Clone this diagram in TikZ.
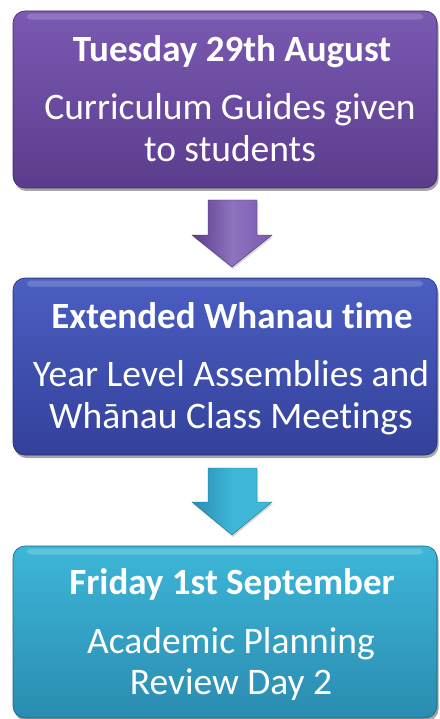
\documentclass[tikz,border=0pt]{standalone}
\usepackage{fontspec}
\setmainfont[Ligatures={CommonOff}]{Carlito}
\usetikzlibrary{shadows,calc}
\definecolor{purpT}{HTML}{7A5AB2}
\definecolor{purpB}{HTML}{5B3C8C}
\definecolor{blueT}{HTML}{4B5EC2}
\definecolor{blueB}{HTML}{33419A}
\definecolor{tealT}{HTML}{3DB6D8}
\definecolor{tealB}{HTML}{2A8CB0}
\tikzset{
  box/.style={rounded corners=12pt, minimum width=424pt, minimum height=177pt,
    inner sep=0pt, draw=#1!70!black, line width=0.6pt,
    drop shadow={shadow xshift=1.5pt, shadow yshift=-3pt, fill=black, opacity=0.35}},
  ttl/.style={anchor=base, text=white, font=\fontsize{37}{44}\selectfont\bfseries},
  bdy/.style={anchor=base, text=white, font=\fontsize{37.5}{44}\selectfont},
  blockarrow/.style={line width=0.4pt}
}
\begin{document}
\begin{tikzpicture}[x=1pt,y=1pt]
\useasboundingbox (0,0) rectangle (439,-719);
% boxes
\node[box=purpB, top color=purpT, bottom color=purpB] (b1) at (225,-99.5) {};
\node[box=blueB, top color=blueT, bottom color=blueB] (b2) at (225,-366.5) {};
\node[box=tealB, top color=tealT, bottom color=tealB, minimum height=172pt] (b3) at (225,-632) {};
% glossy top highlights
\foreach \b/\c in {b1/purpT,b2/blueT,b3/tealT}{
  \fill[white, opacity=0.18, rounded corners=4pt] ($(\b.north west)+(14,-3)$) rectangle ($(\b.north east)+(-14,-9)$);
}
% texts box 1
\node[ttl] (t1) at (232,-62) {Tuesday 29th August};
\node[bdy] (t1a) at (230,-120) {Curriculum Guides given};
\node[bdy] (t1b) at (230,-162) {to students};
% texts box 2
\node[ttl] (t2) at (232,-328) {Extended Whanau time};
\node[bdy] (t2a) at (231,-386) {Year Level Assemblies and};
\node[bdy] (t2b) at (231,-428) {Whānau Class Meetings};
% texts box 3
\node[ttl] (t3) at (232,-594) {Friday 1st September};
\node[bdy] (t3a) at (231,-653) {Academic Planning};
\node[bdy] (t3b) at (231,-694) {Review Day 2};
% block arrows
\coordinate (a1) at (232,-200);
\coordinate (a2) at (232,-468);
\shade[blockarrow, left color=purpB, right color=purpT, middle color=purpT!85!white, draw=purpB!80!black,
  drop shadow={shadow xshift=1pt, shadow yshift=-2pt, opacity=0.3}]
  ($(a1)+(-24,0)$) -- ($(a1)+(25,0)$) -- ($(a1)+(25,-35)$) -- ($(a1)+(40,-35)$) -- ($(a1)+(0,-67)$)
  -- ($(a1)+(-40,-35)$) -- ($(a1)+(-24,-35)$) -- cycle;
\shade[blockarrow, left color=tealB, right color=tealT, middle color=tealT, draw=tealB!80!black,
  drop shadow={shadow xshift=1pt, shadow yshift=-2pt, opacity=0.3}]
  ($(a2)+(-24,0)$) -- ($(a2)+(25,0)$) -- ($(a2)+(25,-34)$) -- ($(a2)+(40,-34)$) -- ($(a2)+(0,-67)$)
  -- ($(a2)+(-40,-34)$) -- ($(a2)+(-24,-34)$) -- cycle;
\end{tikzpicture}
\end{document}
